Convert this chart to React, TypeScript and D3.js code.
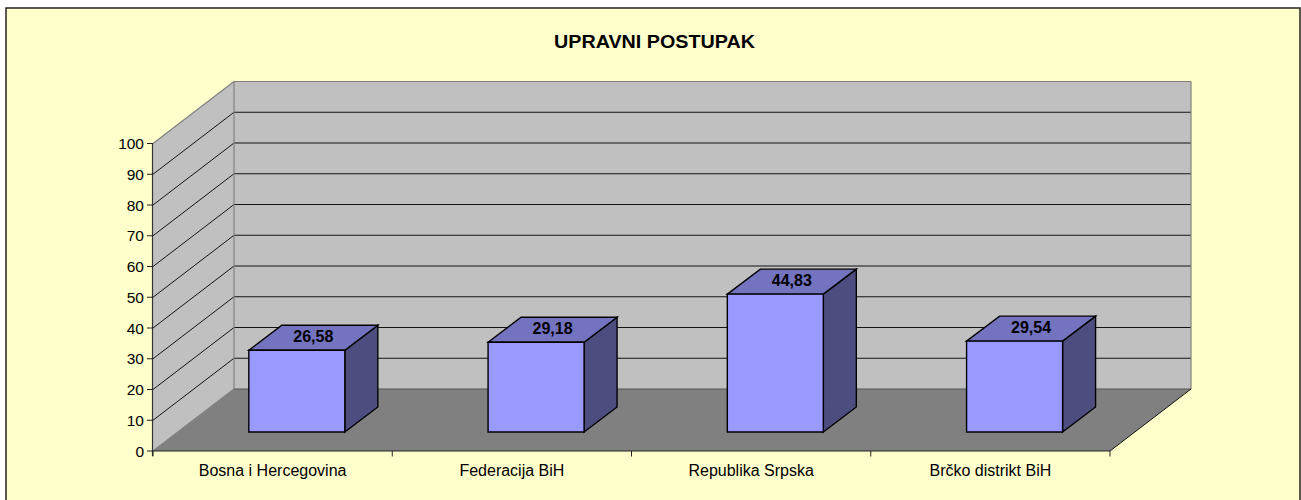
import React from "react";
import * as d3 from "d3";

const title = "UPRAVNI POSTUPAK";
const categories = ["Bosna i Hercegovina", "Federacija BiH", "Republika Srpska", "Brčko distrikt BiH"];
const values = [26.58, 29.18, 44.83, 29.54];
const valueLabels = ["26,58", "29,18", "44,83", "29,54"];
const yTicks = [0, 10, 20, 30, 40, 50, 60, 70, 80, 90, 100];

const X0 = 153, X1 = 1110, Y0 = 451, Y1 = 143.5;
const DX = 81, DY = -62;
const BAR_W = 96, BAR_OFF_X = 24.2, BAR_OFF_Y = -19, BAR_DX = 33, BAR_DY = -25;

const x = d3.scaleBand<string>().domain(categories).range([X0, X1]);
const y = d3.scaleLinear().domain([0, 100]).range([Y0, Y1]);
const poly = (p: number[][]) => "M" + p.map((q) => q.join(",")).join("L") + "Z";
const font = "'Liberation Sans', Arial, sans-serif";

export default function App() {
  const bw = x.bandwidth();
  const edges = [...categories.map((c) => x(c) as number), X1];
  return (
    <svg width={1301} height={500} style={{ position: "absolute", left: 0, top: 0, display: "block" }} fontFamily={font}>
      <rect x={6} y={8} width={1294} height={520} fill="#FFFFCC" stroke="#222" strokeWidth={1.5} />
      <text x={654.5} y={47.5} textAnchor="middle" fontSize={17.5} fontWeight="bold" fill="#000" textLength={201} lengthAdjust="spacingAndGlyphs">{title}</text>

      <path d={poly([[X0 + DX, Y1 + DY], [X1 + DX, Y1 + DY], [X1 + DX, Y0 + DY], [X0 + DX, Y0 + DY]])} fill="#C0C0C0" />
      <path d={poly([[X0, Y1], [X0 + DX, Y1 + DY], [X0 + DX, Y0 + DY], [X0, Y0]])} fill="#C0C0C0" />
      <path d={poly([[X0, Y0], [X0 + DX, Y0 + DY], [X1 + DX, Y0 + DY], [X1, Y0]])} fill="#808080" />

      {yTicks.filter((t) => t > 0 && t < 100).map((t) => (
        <g key={t} stroke="#000" strokeWidth={0.9} fill="none">
          <line x1={X0} y1={y(t)} x2={X0 + DX} y2={y(t) + DY} />
          <line x1={X0 + DX} y1={y(t) + DY} x2={X1 + DX} y2={y(t) + DY} />
        </g>
      ))}
      <g fill="none" stroke="#808080" strokeWidth={1.2}>
        <line x1={X0} y1={Y1} x2={X0 + DX} y2={Y1 + DY} />
        <line x1={X0 + DX} y1={Y1 + DY} x2={X1 + DX} y2={Y1 + DY} />
        <line x1={X0 + DX} y1={Y1 + DY} x2={X0 + DX} y2={Y0 + DY} />
        <line x1={X1 + DX} y1={Y1 + DY} x2={X1 + DX} y2={Y0 + DY} />
        <line x1={X0} y1={Y0} x2={X0 + DX} y2={Y0 + DY} />
      </g>
      <line x1={X0 + DX} y1={Y0 + DY} x2={X1 + DX} y2={Y0 + DY} stroke="#555" strokeWidth={1.2} />
      <line x1={X1} y1={Y0} x2={X1 + DX} y2={Y0 + DY} stroke="#000" strokeWidth={0.9} />

      {categories.map((c, i) => {
        const l = (x(c) as number) + (bw - BAR_W) / 2 + BAR_OFF_X;
        const r = l + BAR_W;
        const b = Y0 + BAR_OFF_Y;
        const t = y(values[i]) + BAR_OFF_Y;
        return (
          <g key={c} stroke="#000" strokeWidth={1.4} strokeLinejoin="miter">
            <path d={poly([[r, b], [r + BAR_DX, b + BAR_DY], [r + BAR_DX, t + BAR_DY], [r, t]])} fill="#4D4D80" />
            <path d={poly([[l, t], [l + BAR_DX, t + BAR_DY], [r + BAR_DX, t + BAR_DY], [r, t]])} fill="#7373BF" />
            <path d={poly([[l, t], [r, t], [r, b], [l, b]])} fill="#9999FF" />
            <text x={(l + r + BAR_DX) / 2} y={t + BAR_DY / 2 + 4.5} textAnchor="middle" fontSize={16} fontWeight="bold" fill="#000" stroke="none">{valueLabels[i]}</text>
          </g>
        );
      })}

      <line x1={X0 - 0.5} y1={Y1} x2={X0 - 0.5} y2={Y0 + 5} stroke="#333" strokeWidth={1.2} />
      <line x1={X0} y1={Y0} x2={X1} y2={Y0} stroke="#222" strokeWidth={1.2} />
      {yTicks.map((t) => (
        <g key={t}>
          <line x1={X0 - 6} y1={y(t)} x2={X0} y2={y(t)} stroke="#222" strokeWidth={1} />
          <text x={X0 - 9} y={y(t) + 5.5} textAnchor="end" fontSize={15.5} fill="#000">{t}</text>
        </g>
      ))}
      {edges.map((e) => (
        <line key={e} x1={e} y1={Y0} x2={e} y2={Y0 + 5.5} stroke="#222" strokeWidth={1} />
      ))}
      {categories.map((c) => (
        <text key={c} x={(x(c) as number) + bw / 2} y={475.5} textAnchor="middle" fontSize={16} fill="#000">{c}</text>
      ))}
    </svg>
  );
}
